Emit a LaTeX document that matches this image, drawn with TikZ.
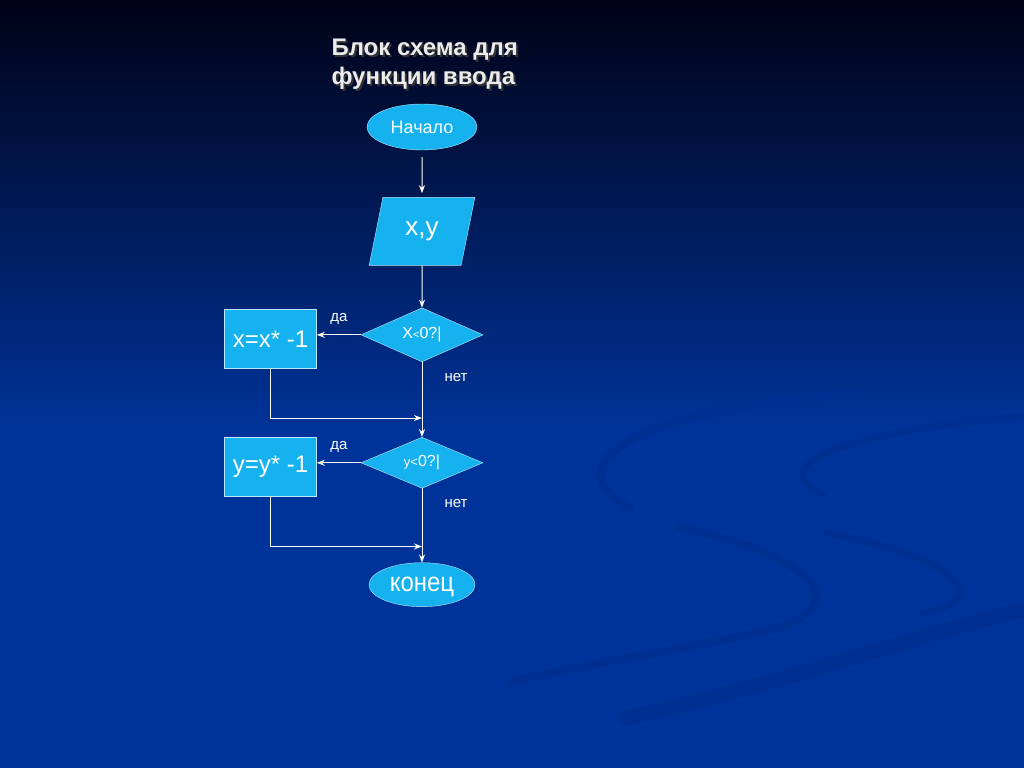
\documentclass[tikz,border=0pt]{standalone}
\usepackage{fontspec}
\setmainfont{Liberation Sans}
\usepackage{xcolor}
\usetikzlibrary{shapes.geometric,arrows.meta,positioning,calc}

\definecolor{bgtop}{RGB}{0,2,22}
\definecolor{bgblue}{RGB}{0,51,153}
\definecolor{swooshblue}{RGB}{0,47,146}
\definecolor{boxfill}{RGB}{22,178,240}
\definecolor{titlegray}{RGB}{236,236,236}

\begin{document}
\begin{tikzpicture}[x=1pt, y=-1pt, auto, >={Stealth[length=8pt,width=6pt]}]
                    % Define styles
                    \tikzstyle{terminal} = [ellipse, draw=white!70!boxfill, fill=boxfill, text=white, minimum width=110pt, minimum height=46pt, inner sep=0pt]
                    \tikzstyle{io} = [trapezium, trapezium left angle=73, trapezium right angle=107, trapezium stretches=true, draw=white!70!boxfill, fill=boxfill, text=white, minimum width=106pt, minimum height=68pt, inner sep=0pt]
                    \tikzstyle{decision} = [diamond, draw=white!70!boxfill, fill=boxfill, text=white, minimum width=122pt, minimum height=51pt, inner sep=0pt, font=\fontsize{16}{18}\selectfont]
                    \tikzstyle{process} = [rectangle, draw=white!70!boxfill, fill=boxfill, text=white, minimum width=92pt, minimum height=59pt, inner sep=0pt, font=\fontsize{24}{26}\selectfont]
                    \tikzstyle{line} = [draw=white, ->, line width=1pt]
                    \tikzstyle{answer} = [text=white, inner sep=0pt, font=\fontsize{15}{17}\selectfont]

                    % Background
                    \useasboundingbox (0,0) rectangle (1024,768);
                    \fill[bgblue] (0,0) rectangle (1024,768);
                    \shade[top color=bgtop, bottom color=bgblue] (0,0) rectangle (1024,430);
                    \begin{scope}[draw=swooshblue, line cap=round]
                    \draw[line width=8pt] (857,393) .. controls (620,410) and (555,470) .. (630,508);
                    \draw[line width=7pt] (1022,417) .. controls (850,430) and (760,465) .. (823,495);
                    \draw[line width=8pt] (680,527) .. controls (830,560) and (855,612) .. (760,632) .. controls (680,650) and (580,665) .. (510,682);
                    \draw[line width=7pt] (827,533) .. controls (950,555) and (1000,600) .. (923,613);
                    \draw[line width=15pt] (1022,610) .. controls (900,640) and (760,690) .. (627,718);
                    \end{scope}

                    % Title
                    \node[text=black!80, align=left, anchor=west, font=\bfseries\fontsize{24}{29}\selectfont] (titleshadow) at (330,66) {Блок схема для\\функции ввода};
                    \node[text=titlegray, align=left, anchor=west, font=\bfseries\fontsize{24}{29}\selectfont] (title) at (328,64) {Блок схема для\\функции ввода};

                    % Nodes
                    \node [terminal, font=\fontsize{18}{20}\selectfont] (start) at (422,127) {Начало};
                    \node [io, below=47pt of start, font=\fontsize{26}{28}\selectfont] (input) {x,y};
                    \node [decision, below=42pt of input] (check1) {X{\fontsize{11}{12}\selectfont<}0?|};
                    \node [process, left=44pt of check1, yshift=-4pt] (negx) {x=x* -1};
                    \node [decision, below=75pt of check1] (check2) {{\fontsize{13}{14}\selectfont y<}0?|};
                    \node [process, left=44pt of check2, yshift=-4pt] (negy) {y=y* -1};
                    \node [terminal, below=74pt of check2, minimum width=106pt, minimum height=44pt, text height=14pt, text depth=0pt, font=\fontsize{24}{26}\selectfont] (stop) {\scalebox{1}[1.12]{конец}};
                    \coordinate (join1) at ($(check2.north)+(0,-19)$);
                    \coordinate (join2) at ($(stop.north)+(0,-16)$);

                    % Arrows
                    \draw [line, shorten <=7pt, shorten >=4pt] (start) -- (input);
                    \draw [line] (input) -- (check1);
                    \draw [line] (check1.west) -- node [answer, above=10pt] {да} (check1.west -| negx.east);
                    \draw [line] (check1) -- node [answer, pos=0.2, right=22pt] {нет} (check2);
                    \draw [line] (negx) |- (join1);
                    \draw [line] (check2.west) -- node [answer, above=10pt] {да} (check2.west -| negy.east);
                    \draw [line] (check2) -- node [answer, pos=0.21, right=22pt] {нет} (stop);
                    \draw [line] (negy) |- (join2);
                \end{tikzpicture}
\end{document}
